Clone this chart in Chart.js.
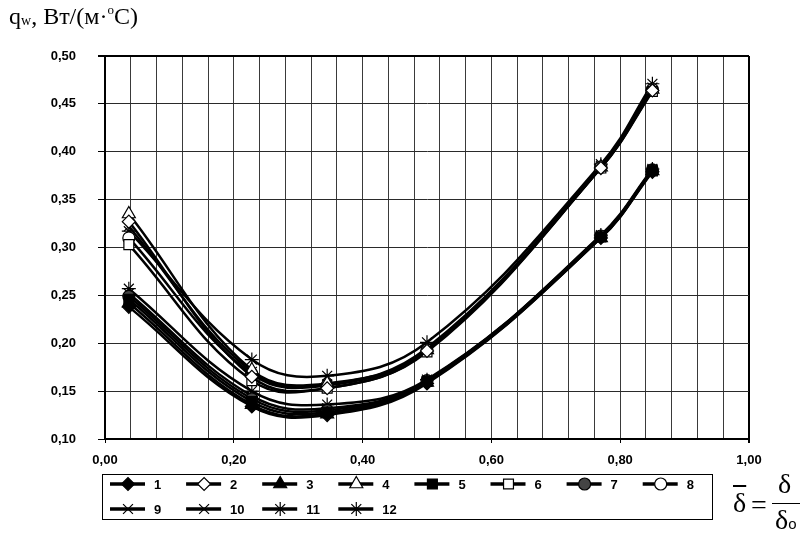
<!DOCTYPE html>
<html>
<head>
<meta charset="utf-8">
<script src="https://cdn.jsdelivr.net/npm/chart.js@4.4.1/dist/chart.umd.min.js"></script>
<style>
    body { margin: 0; background: #fff; }
    #wrap { position: relative; width: 800px; height: 538px; }
    #chart { position: absolute; left: 0; top: 0; }
    .serif { position: absolute; font-family: 'Liberation Serif', 'DejaVu Serif', serif; color: #000; white-space: nowrap; }
    #yTitle { left: 9px; top: 2px; font-size: 24px; }
    #yTitle sub { font-size: 14px; vertical-align: -1px; }
    #yTitle sup { font-size: 13px; vertical-align: 10px; }
</style>
</head>
<body>
<div id="wrap">
    <canvas id="chart" width="800" height="538"></canvas>
    <div id="yTitle" class="serif">q<sub>w</sub>, Вт/(м·<sup>o</sup>С)</div>
    <div class="serif" style="left:733px; top:487px; font-size:28px; text-decoration: overline;">δ</div>
    <div class="serif" style="left:751px; top:489px; font-size:28px;">=</div>
    <div class="serif" style="left:778px; top:468px; font-size:28px;">δ</div>
    <div style="position:absolute; left:772px; top:503px; width:28px; height:1px; background:#000;"></div>
    <div class="serif" style="left:775px; top:504px; font-size:28px;">δ<span style="font-family:'Liberation Sans', sans-serif; font-size:15px;">o</span></div>
</div>
<script>
// abscissa of the measured points (relative thickness)
const xVals = [0.037, 0.228, 0.345, 0.50, 0.77, 0.85];

// heat flux, one array per curve
const s1  = [0.238, 0.134, 0.125, 0.158, 0.310, 0.379];
const s2  = [0.327, 0.165, 0.153, 0.192, 0.383, 0.464];
const s3  = [0.242, 0.136, 0.126, 0.159, 0.310, 0.380];
const s4  = [0.335, 0.172, 0.158, 0.193, 0.384, 0.465];
const s5  = [0.246, 0.139, 0.128, 0.160, 0.311, 0.380];
const s6  = [0.303, 0.161, 0.153, 0.191, 0.383, 0.463];
const s7  = [0.249, 0.142, 0.130, 0.161, 0.312, 0.381];
const s8  = [0.310, 0.168, 0.156, 0.193, 0.384, 0.465];
const s9  = [0.252, 0.145, 0.132, 0.161, 0.312, 0.381];
const s10 = [0.322, 0.170, 0.157, 0.195, 0.385, 0.467];
const s11 = [0.257, 0.150, 0.136, 0.162, 0.313, 0.382];
const s12 = [0.317, 0.183, 0.166, 0.201, 0.387, 0.471];

const seriesNames = ['1', '2', '3', '4', '5', '6', '7', '8', '9', '10', '11', '12'];
const seriesValues = [s1, s2, s3, s4, s5, s6, s7, s8, s9, s10, s11, s12];

const yTicks = [0.10, 0.15, 0.20, 0.25, 0.30, 0.35, 0.40, 0.45, 0.50];

// marker look per curve
const markers = [
    { style: 'rectRot',  fill: '#000', r: 6.5 },
    { style: 'rectRot',  fill: '#fff', r: 6.5 },
    { style: 'triangle', fill: '#000', r: 7.5 },
    { style: 'triangle', fill: '#fff', r: 7.5 },
    { style: 'rect',     fill: '#000', r: 7 },
    { style: 'rect',     fill: '#fff', r: 7 },
    { style: 'circle',   fill: '#444', r: 6 },
    { style: 'circle',   fill: '#fff', r: 6 },
    { style: 'crossRot', fill: '#000', r: 7 },
    { style: 'crossRot', fill: '#fff', r: 7 },
    { style: 'star',     fill: '#000', r: 7 },
    { style: 'star',     fill: '#fff', r: 7 }
];

const datasets = seriesValues.map((vals, i) => ({
    label: seriesNames[i],
    data: vals.map((v, j) => ({ x: xVals[j], y: v })),
    borderColor: '#000',
    borderWidth: 2.5,
    tension: 0.4,
    pointStyle: markers[i].style,
    pointRadius: markers[i].r,
    pointBackgroundColor: markers[i].fill,
    pointBorderColor: '#000',
    pointBorderWidth: 1.2
}));

const fmt = v => v.toFixed(2).replace('.', ',');
const isMajor = v => Math.abs(v * 5 - Math.round(v * 5)) < 1e-6;

// Excel-like legend in a framed box under the plot
const boxLegend = {
    id: 'boxLegend',
    afterDraw(chart) {
        const c = chart.ctx;
        const left = 102, top = 474, right = 712, bottom = 519;
        c.save();
        c.strokeStyle = '#000';
        c.lineWidth = 1;
        c.strokeRect(left + 0.5, top + 0.5, right - left, bottom - top);
        c.font = 'bold 13px "Liberation Sans", Arial, sans-serif';
        c.textBaseline = 'middle';
        chart.data.datasets.forEach((ds, i) => {
            const col = i % 8, row = Math.floor(i / 8);
            const x0 = 110 + col * 76.1;
            const y = row === 0 ? 484 : 509;
            c.strokeStyle = '#000';
            c.lineWidth = 3.5;
            c.beginPath();
            c.moveTo(x0, y);
            c.lineTo(x0 + 35, y);
            c.stroke();
            c.fillStyle = ds.pointBackgroundColor;
            c.strokeStyle = '#000';
            c.lineWidth = 1.2;
            Chart.helpers.drawPoint(c, { pointStyle: ds.pointStyle, radius: ds.pointRadius, rotation: 0, borderWidth: 1.2 }, x0 + 18, y);
            c.fillStyle = '#000';
            c.fillText(ds.label, x0 + 44, y + 1);
        });
        c.restore();
    }
};

const ctx = document.getElementById('chart').getContext('2d');
const chart = new Chart(ctx, {
    type: 'line',
    data: { datasets },
    options: {
        responsive: false,
        animation: false,
        layout: { padding: { top: 56, right: 51, left: 0, bottom: 0 } },
        plugins: { legend: { display: false }, tooltip: { enabled: false } },
        scales: {
            x: {
                type: 'linear',
                min: 0,
                max: 1,
                afterFit: s => { s.height = 99; },
                ticks: {
                    stepSize: 0.04,
                    autoSkip: false,
                    maxRotation: 0,
                    padding: 10,
                    color: '#000',
                    font: { family: '"Liberation Sans", Arial, sans-serif', size: 13, weight: 'bold' },
                    callback: v => isMajor(v) ? fmt(v) : ''
                },
                grid: {
                    color: c => (c.tick && c.tick.value >= 0.999) ? '#000' : '#3a3a3a',
                    lineWidth: c => (c.tick && c.tick.value >= 0.999) ? 2 : 1,
                    tickLength: 4,
                    tickColor: c => (c.tick && isMajor(c.tick.value)) ? '#000' : 'rgba(0,0,0,0)'
                },
                border: { color: '#000', width: 2 }
            },
            y: {
                min: 0.10,
                max: 0.50,
                afterFit: s => { s.width = 105; },
                afterBuildTicks: s => { s.ticks = yTicks.map(v => ({ value: v })); },
                ticks: {
                    padding: 22,
                    color: '#000',
                    font: { family: '"Liberation Sans", Arial, sans-serif', size: 13, weight: 'bold' },
                    callback: v => fmt(v)
                },
                grid: {
                    color: c => (c.tick && c.tick.value >= 0.499) ? '#000' : '#2a2a2a',
                    lineWidth: c => (c.tick && c.tick.value >= 0.499) ? 2 : 1,
                    tickLength: 7,
                    tickColor: '#000'
                },
                border: { color: '#000', width: 2 }
            }
        }
    },
    plugins: [boxLegend]
});
</script>
</body>
</html>
